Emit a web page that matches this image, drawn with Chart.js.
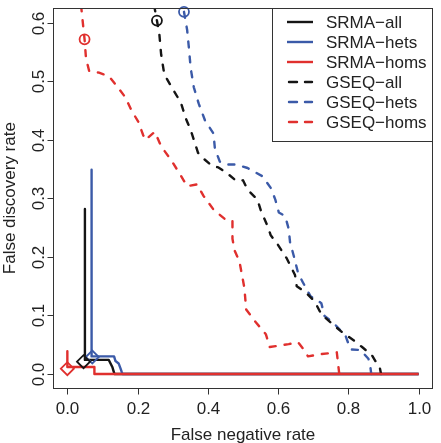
<!DOCTYPE html>
<html>
<head>
<meta charset="utf-8">
<script src="https://cdn.jsdelivr.net/npm/chart.js@4.4.0/dist/chart.umd.min.js"></script>
<style>
  html, body { margin: 0; padding: 0; background: #fff; }
  #wrap { width: 441px; height: 443px; }
</style>
</head>
<body>
<div id="wrap"><canvas id="fdrChart" width="441" height="443"></canvas></div>
<script>
// Axis ticks
const xTicks = [0, 0.2, 0.4, 0.6, 0.8, 1.0];
const yTicks = [0, 0.1, 0.2, 0.3, 0.4, 0.5, 0.6];

// Series names (legend order)
const seriesNames = ['SRMA\u2212all', 'SRMA\u2212hets', 'SRMA\u2212homs', 'GSEQ\u2212all', 'GSEQ\u2212hets', 'GSEQ\u2212homs'];

// SRMA (solid) curves: false negative rate (x) vs false discovery rate (y)
const srmaAllX  = [0.050, 0.050, 0.118, 0.123, 0.128, 0.132, 0.134, 1.0];
const srmaAllY  = [0.282, 0.024, 0.024, 0.018, 0.012, 0.004, 0.0, 0.0];
const srmaHetsX = [0.069, 0.069, 0.133, 0.137, 0.146, 0.151, 0.155, 0.157, 1.0];
const srmaHetsY = [0.349, 0.030, 0.030, 0.022, 0.018, 0.010, 0.003, 0.0, 0.0];
const srmaHomsX = [0.0, 0.0, 0.077, 0.077, 1.0];
const srmaHomsY = [0.039, 0.012, 0.012, 0.0, 0.0];

// GSEQ (dashed) curves
const gseqAllX = [0.247, 0.255, 0.262, 0.267, 0.276, 0.300, 0.323, 0.337, 0.351, 0.365, 0.372, 0.388, 0.411, 0.430,
  0.453, 0.481, 0.500, 0.513, 0.541, 0.551, 0.569, 0.579, 0.597, 0.625, 0.648, 0.653, 0.681, 0.704, 0.723, 0.755,
  0.783, 0.816, 0.839, 0.867, 0.890, 0.893];
const gseqAllY = [0.630, 0.604, 0.580, 0.546, 0.512, 0.487, 0.464, 0.437, 0.417, 0.391, 0.378, 0.368, 0.356, 0.353,
  0.344, 0.330, 0.331, 0.315, 0.298, 0.279, 0.254, 0.237, 0.223, 0.197, 0.169, 0.150, 0.138, 0.124, 0.102, 0.085,
  0.071, 0.057, 0.046, 0.032, 0.009, 0.0];
const gseqHetsX = [0.332, 0.341, 0.346, 0.351, 0.360, 0.374, 0.392, 0.416, 0.420, 0.434, 0.453, 0.481, 0.513, 0.555,
  0.579, 0.592, 0.602, 0.620, 0.630, 0.634, 0.644, 0.657, 0.671, 0.692, 0.723, 0.732, 0.758, 0.792, 0.806, 0.834,
  0.857, 0.862, 0.865];
const gseqHetsY = [0.619, 0.588, 0.557, 0.523, 0.490, 0.462, 0.433, 0.411, 0.385, 0.363, 0.358, 0.358, 0.352, 0.338,
  0.318, 0.298, 0.276, 0.270, 0.248, 0.225, 0.203, 0.172, 0.156, 0.133, 0.121, 0.099, 0.087, 0.065, 0.042, 0.041,
  0.026, 0.015, 0.0];
const gseqHomsX = [0.039, 0.049, 0.053, 0.062, 0.090, 0.118, 0.137, 0.165, 0.183, 0.202, 0.216, 0.222, 0.249, 0.267,
  0.295, 0.318, 0.341, 0.369, 0.388, 0.416, 0.448, 0.470, 0.470, 0.476, 0.490, 0.504, 0.509, 0.537, 0.565, 0.576,
  0.630, 0.657, 0.671, 0.685, 0.723, 0.767, 0.774];
const gseqHomsY = [0.630, 0.572, 0.540, 0.518, 0.515, 0.509, 0.495, 0.473, 0.450, 0.431, 0.408, 0.400, 0.414, 0.389,
  0.366, 0.344, 0.321, 0.324, 0.304, 0.281, 0.265, 0.262, 0.231, 0.211, 0.192, 0.147, 0.110, 0.088, 0.068, 0.046,
  0.051, 0.054, 0.043, 0.030, 0.034, 0.037, 0.0];

// Marked operating points (diamonds for SRMA, circles for GSEQ)
const srmaMarkX = [0.046, 0.071, 0.0];
const srmaMarkY = [0.021, 0.029, 0.009];
const gseqMarkX = [0.255, 0.332, 0.049];
const gseqMarkY = [0.604, 0.619, 0.572];

const lineColors = ['#151515', '#3b5aa8', '#e0302e', '#151515', '#3b5aa8', '#e0302e'];
const FONT = '"Liberation Sans", Arial, Helvetica, sans-serif';
const DASH = [6, 9];

const toPoints = (xs, ys) => xs.map((x, i) => ({ x: x, y: ys[i] }));

const curveX = [srmaAllX, srmaHetsX, srmaHomsX, gseqAllX, gseqHetsX, gseqHomsX];
const curveY = [srmaAllY, srmaHetsY, srmaHomsY, gseqAllY, gseqHetsY, gseqHomsY];
const drawOrder = [5, 4, 1, 3, 3, 2]; // lower is drawn on top

const datasets = seriesNames.map((name, i) => ({
    label: name,
    data: toPoints(curveX[i], curveY[i]),
    showLine: true,
    borderColor: lineColors[i],
    borderWidth: 2.4,
    borderDash: i >= 3 ? DASH : [],
    borderCapStyle: i >= 3 ? 'round' : 'butt',
    borderJoinStyle: 'round',
    pointRadius: 0,
    pointHoverRadius: 0,
    fill: false,
    tension: 0,
    order: drawOrder[i]
}));

// marker datasets
srmaMarkX.forEach((x, i) => {
    datasets.push({
        label: 'mark',
        data: [{ x: x, y: srmaMarkY[i] }],
        showLine: false,
        pointStyle: 'rectRot',
        pointRadius: 6.5,
        pointBorderWidth: 1.8,
        pointBorderColor: lineColors[i],
        pointBackgroundColor: 'rgba(0,0,0,0)',
        clip: false,
        order: 0
    });
});
gseqMarkX.forEach((x, i) => {
    datasets.push({
        label: 'mark',
        data: [{ x: x, y: gseqMarkY[i] }],
        showLine: false,
        pointStyle: 'circle',
        pointRadius: 5,
        pointBorderWidth: 1.8,
        pointBorderColor: lineColors[i + 3],
        pointBackgroundColor: 'rgba(0,0,0,0)',
        clip: false,
        order: 0
    });
});

// R-style box, ticks, labels and legend
const rStyle = {
    id: 'rStyle',
    afterDraw(chart) {
        const { ctx, chartArea: a, scales } = chart;
        const xs = scales.x, ys = scales.y;
        ctx.save();
        ctx.strokeStyle = '#333';
        ctx.lineWidth = 1;

        // box
        const L = Math.round(a.left) + 0.5, R = Math.round(a.right) - 0.5;
        const T = Math.round(a.top) + 0.5, B = Math.round(a.bottom) + 0.5;
        ctx.strokeRect(L, T, R - L, B - T);

        ctx.fillStyle = '#222';
        ctx.font = '17px ' + FONT;

        // x ticks
        ctx.textAlign = 'center';
        ctx.textBaseline = 'alphabetic';
        xTicks.forEach(v => {
            const px = Math.round(xs.getPixelForValue(v)) + 0.5;
            ctx.beginPath();
            ctx.moveTo(px, B);
            ctx.lineTo(px, B + 6);
            ctx.stroke();
            ctx.fillText(v.toFixed(1), px, 413.5);
        });

        // y ticks (rotated labels)
        yTicks.forEach(v => {
            const py = Math.round(ys.getPixelForValue(v)) + 0.5;
            ctx.beginPath();
            ctx.moveTo(L, py);
            ctx.lineTo(L - 6, py);
            ctx.stroke();
            ctx.save();
            ctx.translate(43.5, py);
            ctx.rotate(-Math.PI / 2);
            ctx.fillText(v.toFixed(1), 0, 0);
            ctx.restore();
        });

        // axis titles
        ctx.fillText('False negative rate', (a.left + a.right) / 2, 439.5);
        ctx.save();
        ctx.translate(15, (a.top + a.bottom) / 2);
        ctx.rotate(-Math.PI / 2);
        ctx.fillText('False discovery rate', 0, 0);
        ctx.restore();

        // legend
        const lx = 272.5, ly = T, lw = R - 272.5, lh = 141.5 - T;
        ctx.fillStyle = '#fff';
        ctx.fillRect(lx, ly, lw, lh);
        ctx.strokeStyle = '#333';
        ctx.strokeRect(lx, ly, lw, lh);
        ctx.textAlign = 'left';
        ctx.textBaseline = 'middle';
        seriesNames.forEach((name, i) => {
            const ry = 22 + i * 20;
            ctx.strokeStyle = lineColors[i];
            ctx.lineWidth = 2.4;
            ctx.setLineDash(i >= 3 ? [8, 8] : []);
            ctx.lineCap = i >= 3 ? 'round' : 'butt';
            ctx.beginPath();
            ctx.moveTo(i >= 3 ? 289 : 287, ry);
            ctx.lineTo(i >= 3 ? 312 : 313, ry);
            ctx.stroke();
            ctx.setLineDash([]);
            ctx.fillStyle = '#222';
            ctx.fillText(name, 326, ry + 1);
        });
        ctx.restore();
    }
};

const chart = new Chart(document.getElementById('fdrChart'), {
    type: 'scatter',
    data: { datasets: datasets },
    options: {
        responsive: false,
        animation: false,
        devicePixelRatio: 1,
        layout: { padding: { left: 0, right: 0.6, top: 3, bottom: 0 } },
        plugins: {
            legend: { display: false },
            tooltip: { enabled: false }
        },
        scales: {
            x: {
                type: 'linear',
                min: -0.04,
                max: 1.04,
                grid: { display: false },
                border: { display: false },
                ticks: { display: false },
                afterFit: s => { s.height = 55; }
            },
            y: {
                type: 'linear',
                min: -0.024,
                max: 0.625,
                grid: { display: false },
                border: { display: false },
                ticks: { display: false },
                afterFit: s => { s.width = 53.3; }
            }
        }
    },
    plugins: [rStyle]
});
</script>
</body>
</html>
